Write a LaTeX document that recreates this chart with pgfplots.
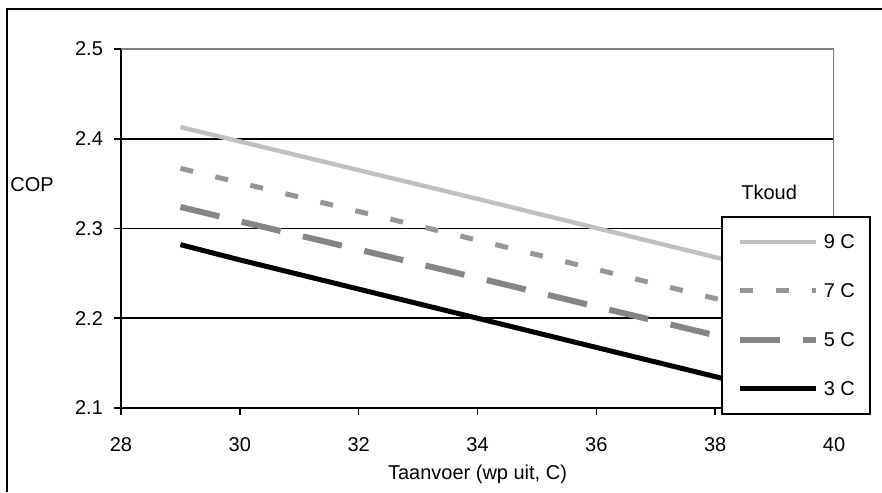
\documentclass[border=0pt]{standalone}
\usepackage{fontspec}
\setmainfont{Liberation Sans}
\usepackage{pgfplots}
\pgfplotsset{compat=1.18}
\definecolor{c9}{HTML}{C0C0C0}
\definecolor{c7}{HTML}{969696}
\definecolor{c5}{HTML}{858585}
\definecolor{bordergray}{HTML}{808080}
\begin{document}
\begin{tikzpicture}[font=\fontsize{10}{12}\selectfont]
\useasboundingbox (-60.5pt,-42pt) rectangle (380.5pt,204pt);
\fill[white] (-60.5pt,-42pt) rectangle (380.5pt,204pt);
\draw[black, line width=1pt] (-57pt,-42pt) -- (-57pt,199.5pt) -- (380.5pt,199.5pt);
\begin{axis}[
  at={(0,0)}, anchor=south west,
  scale only axis, width=356.5pt, height=179.5pt,
  xmin=28, xmax=40, ymin=2.1, ymax=2.5,
  xtick={28,30,...,40},
  ytick={2.1,2.2,2.3,2.4,2.5},
  yticklabel style={xshift=-2pt, /pgf/number format/fixed, /pgf/number format/fixed zerofill, /pgf/number format/precision=1},
  /pgf/number format/assume math mode=true,
  axis lines=left, axis line style={-, black, line width=1pt},
  tick align=outside,
  tick style={black, line width=0.8pt},
  major tick length=3.5pt,
  ymajorgrids, major grid style={black, line width=0.8pt},
  xticklabel style={yshift=-7.5pt},
  every axis x label/.style={at={(axis description cs:0.5,0)}, anchor=center, yshift=-33pt},
  every axis y label/.style={at={(axis description cs:0,0.621)}, anchor=west, inner sep=0pt, xshift=-55.5pt},
  xlabel={Taanvoer (wp uit, C)},
  ylabel={COP},
  legend image code/.code={\draw[#1] (0pt,0pt) -- (38pt,0pt);},
  legend style={at={(rel axis cs:0.8415,0.5348)}, anchor=north west,
    draw=black, line width=0.8pt, fill=white,
    inner xsep=7.5pt, inner ysep=9pt, row sep=17.5pt,
    nodes={inner sep=0pt, text height=7pt, text depth=0pt, anchor=west},
    /tikz/every odd column/.append style={column sep=2.5pt},
    font=\fontsize{10}{12}\selectfont},
  legend cell align=left,
]
\draw[bordergray, line width=1pt] (rel axis cs:0,1) -- (rel axis cs:1,1) -- (rel axis cs:1,0);
\addplot[c9, line width=2.2pt] coordinates {(29,2.413) (30,2.397) (34,2.333) (38,2.268) (40,2.236)};
\addlegendentry{9 C}
\addplot[c7, line width=2.5pt, dash pattern=on 6.5pt off 11.5pt] coordinates {(29,2.367) (30,2.351) (34,2.287) (38,2.222) (40,2.190)};
\addlegendentry{7 C}
\addplot[c5, line width=3pt, dash pattern=on 20pt off 11.5pt] coordinates {(29,2.324) (30,2.308) (34,2.245) (38,2.181) (40,2.149)};
\addlegendentry{5 C}
\addplot[black, line width=2.5pt] coordinates {(29,2.282) (30,2.265) (34,2.200) (38,2.135) (40,2.102)};
\addlegendentry{3 C}
\node at (rel axis cs:0.909,0.6017) {Tkoud};
\end{axis}
\end{tikzpicture}
\end{document}
